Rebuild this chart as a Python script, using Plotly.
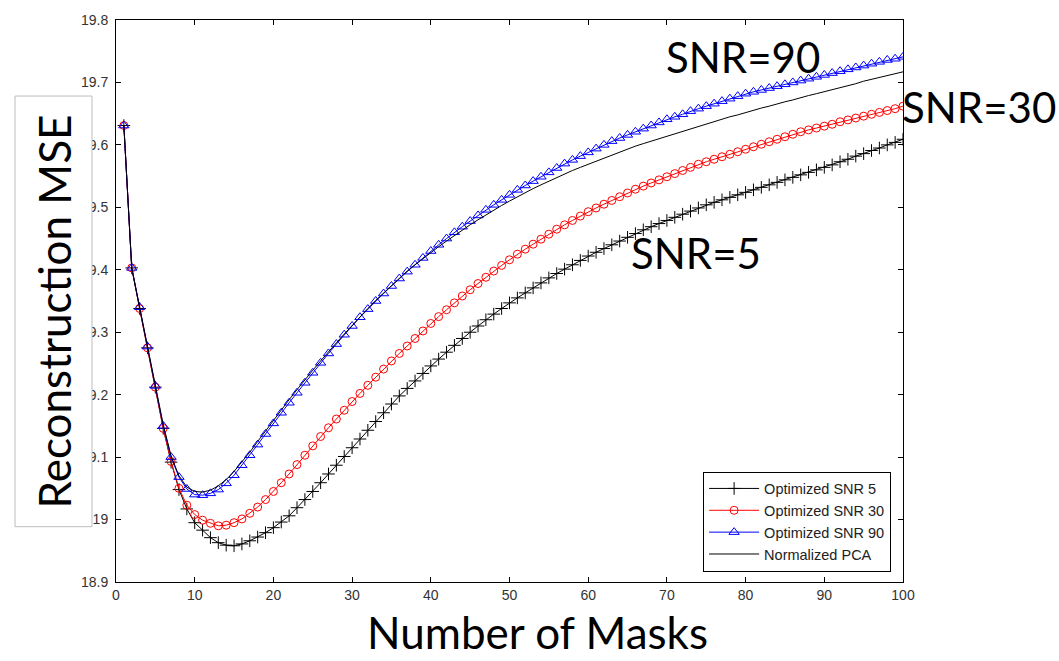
import plotly.graph_objects as go

masks = list(range(1, 101))

snr5 = [19.631, 19.403, 19.338, 19.275, 19.212, 19.146, 19.092, 19.048, 19.017, 18.995, 18.983, 18.971, 18.963, 18.959, 18.958,
        18.961, 18.966, 18.972, 18.979, 18.987, 18.996, 19.006, 19.019, 19.032, 19.045, 19.059, 19.073, 19.087, 19.101, 19.115,
        19.129, 19.143, 19.157, 19.171, 19.185, 19.198, 19.210, 19.222, 19.234, 19.246, 19.257, 19.268, 19.279, 19.290, 19.300,
        19.310, 19.320, 19.329, 19.338, 19.347, 19.355, 19.363, 19.371, 19.379, 19.387, 19.394, 19.401, 19.408, 19.415, 19.422,
        19.428, 19.434, 19.440, 19.446, 19.452, 19.458, 19.464, 19.469, 19.474, 19.479, 19.484, 19.489, 19.494, 19.499, 19.504,
        19.508, 19.512, 19.516, 19.520, 19.524, 19.528, 19.532, 19.536, 19.540, 19.544, 19.548, 19.552, 19.556, 19.560, 19.564,
        19.568, 19.573, 19.577, 19.582, 19.586, 19.591, 19.595, 19.600, 19.604, 19.609]

snr30 = [19.631, 19.403, 19.338, 19.275, 19.212, 19.146, 19.093, 19.050, 19.023, 19.008, 18.999, 18.994, 18.990, 18.991, 18.995,
         19.001, 19.010, 19.020, 19.032, 19.045, 19.059, 19.073, 19.088, 19.103, 19.118, 19.133, 19.147, 19.161, 19.175, 19.189,
         19.202, 19.215, 19.228, 19.241, 19.254, 19.266, 19.278, 19.290, 19.302, 19.314, 19.325, 19.336, 19.347, 19.358, 19.368,
         19.378, 19.388, 19.398, 19.407, 19.416, 19.425, 19.433, 19.441, 19.449, 19.457, 19.465, 19.472, 19.479, 19.486, 19.493,
         19.499, 19.505, 19.511, 19.517, 19.523, 19.529, 19.534, 19.539, 19.544, 19.549, 19.554, 19.559, 19.564, 19.569, 19.573,
         19.577, 19.581, 19.585, 19.589, 19.593, 19.597, 19.601, 19.605, 19.609, 19.613, 19.617, 19.621, 19.624, 19.627, 19.630,
         19.633, 19.637, 19.640, 19.643, 19.646, 19.649, 19.652, 19.655, 19.658, 19.662]

snr90 = [19.631, 19.403, 19.340, 19.277, 19.214, 19.150, 19.100, 19.068, 19.049, 19.040, 19.039, 19.042, 19.048, 19.058, 19.071,
         19.087, 19.103, 19.120, 19.137, 19.154, 19.171, 19.187, 19.203, 19.219, 19.235, 19.251, 19.266, 19.281, 19.296, 19.310,
         19.324, 19.337, 19.350, 19.362, 19.374, 19.386, 19.397, 19.408, 19.419, 19.430, 19.440, 19.450, 19.460, 19.469, 19.478,
         19.487, 19.496, 19.504, 19.512, 19.520, 19.528, 19.535, 19.542, 19.549, 19.556, 19.563, 19.570, 19.576, 19.582, 19.588,
         19.594, 19.600, 19.606, 19.611, 19.616, 19.621, 19.626, 19.631, 19.636, 19.641, 19.645, 19.649, 19.654, 19.658, 19.662,
         19.666, 19.670, 19.674, 19.678, 19.682, 19.685, 19.688, 19.691, 19.694, 19.697, 19.700, 19.703, 19.706, 19.709, 19.712,
         19.715, 19.718, 19.721, 19.724, 19.727, 19.730, 19.733, 19.736, 19.738, 19.741]

pca = [19.631, 19.403, 19.340, 19.277, 19.214, 19.152, 19.102, 19.070, 19.052, 19.045, 19.044, 19.047, 19.054, 19.064, 19.077,
       19.092, 19.108, 19.125, 19.142, 19.159, 19.176, 19.192, 19.208, 19.224, 19.239, 19.254, 19.269, 19.283, 19.297, 19.311,
       19.325, 19.338, 19.351, 19.363, 19.375, 19.387, 19.398, 19.408, 19.418, 19.428, 19.437, 19.446, 19.455, 19.464, 19.472,
       19.480, 19.488, 19.496, 19.503, 19.510, 19.517, 19.524, 19.530, 19.536, 19.542, 19.548, 19.554, 19.559, 19.564, 19.569,
       19.574, 19.579, 19.584, 19.589, 19.594, 19.598, 19.602, 19.606, 19.610, 19.614, 19.618, 19.622, 19.626, 19.630, 19.634,
       19.638, 19.641, 19.645, 19.648, 19.652, 19.655, 19.659, 19.662, 19.666, 19.669, 19.672, 19.676, 19.679, 19.682, 19.685,
       19.689, 19.692, 19.695, 19.698, 19.702, 19.705, 19.708, 19.711, 19.714, 19.717]

x_ticks = [0, 10, 20, 30, 40, 50, 60, 70, 80, 90, 100]
y_ticks = [18.9, 19.0, 19.1, 19.2, 19.3, 19.4, 19.5, 19.6, 19.7, 19.8]
y_ticktext = ["18.9", "19", "19.1", "19.2", "19.3", "19.4", "19.5", "19.6", "19.7", "19.8"]

fig = go.Figure()
fig.add_trace(go.Scatter(x=masks, y=snr5, mode="lines+markers", name="Optimized SNR 5", legendgroup="a",
                         line=dict(color="black", width=1),
                         marker=dict(symbol="cross-thin-open", size=9, color="black", line=dict(width=1, color="black"))))
fig.add_trace(go.Scatter(x=masks, y=snr30, mode="lines+markers", name="Optimized SNR 30", legendgroup="b",
                         line=dict(color="#ff0000", width=1),
                         marker=dict(symbol="circle-open", size=8, color="#ff0000", line=dict(width=1, color="#ff0000"))))
fig.add_trace(go.Scatter(x=masks, y=snr90, mode="lines+markers", name="Optimized SNR 90", legendgroup="c",
                         line=dict(color="#0000ff", width=1),
                         marker=dict(symbol="triangle-up-open", size=9, color="#0000ff", line=dict(width=1, color="#0000ff"))))
fig.add_trace(go.Scatter(x=masks, y=pca, mode="lines", name="Normalized PCA", legendgroup="d",
                         line=dict(color="black", width=1)))

axis_common = dict(showline=True, linecolor="black", linewidth=1, mirror="ticks", ticks="inside",
                   ticklen=5, tickcolor="black", showgrid=False, zeroline=False,
                   tickfont=dict(family="Liberation Sans, Arial, sans-serif", size=14, color="#333333"))

fig.update_layout(
    width=1059, height=661,
    margin=dict(l=116, r=156, t=13, b=79),
    paper_bgcolor="white", plot_bgcolor="white",
    xaxis=dict(range=[0, 100], tickvals=x_ticks, **axis_common),
    yaxis=dict(range=[18.9, 19.8], tickvals=y_ticks, ticktext=y_ticktext, ticklabelstandoff=4, **axis_common),
    legend=dict(x=0.746, y=0.1966, xanchor="left", yanchor="top", bordercolor="black", borderwidth=1,
                bgcolor="white", tracegroupgap=0, itemwidth=50,
                font=dict(family="Liberation Sans, Arial, sans-serif", size=14.5, color="#222222")),
    showlegend=True,
)

# white box behind the y-axis title (covers part of the tick labels)
fig.add_shape(type="rect", xref="paper", yref="paper", x0=-0.1283, x1=-0.0305, y0=0.0984, y1=0.8647,
              fillcolor="white", line=dict(color="#bdbdbd", width=1), layer="above")

big_font = dict(family="Lato, Open Sans, sans-serif", size=42, color="black")
fig.add_annotation(text="Reconstruction MSE", xref="paper", yref="paper", x=-0.0788, y=0.4815,
                   textangle=-90, showarrow=False, xanchor="center", yanchor="middle",
                   font=dict(family="Lato, Open Sans, sans-serif", size=44, color="black"))
fig.add_annotation(text="Number of Masks", xref="paper", yref="paper", x=0.535, y=-0.1385,
                   showarrow=False, xanchor="center", yanchor="bottom",
                   font=dict(family="Lato, Open Sans, sans-serif", size=44, color="black"))
fig.add_annotation(text="SNR=90", xref="paper", yref="paper", x=0.797, y=0.935,
                   showarrow=False, xanchor="center", yanchor="middle", font=big_font)
fig.add_annotation(text="SNR=30", xref="paper", yref="paper", x=1.097, y=0.845,
                   showarrow=False, xanchor="center", yanchor="middle", font=big_font)
fig.add_annotation(text="SNR=5", xref="paper", yref="paper", x=0.737, y=0.585,
                   showarrow=False, xanchor="center", yanchor="middle", font=big_font)

fig.write_html("out.html")
